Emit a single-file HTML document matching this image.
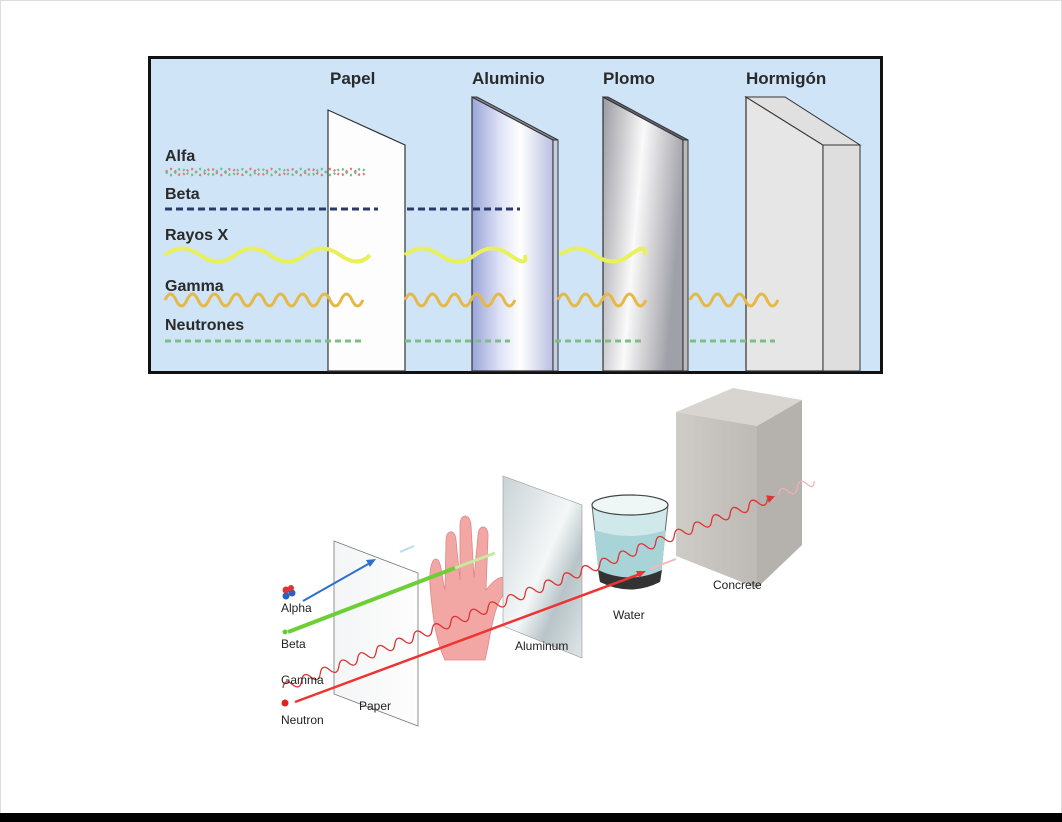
<!DOCTYPE html>
<html><head><meta charset="utf-8"><style>
html,body{margin:0;padding:0;background:#fff;}
svg{display:block}
text{font-family:"Liberation Sans",sans-serif}
</style></head><body>
<svg width="1062" height="822" viewBox="0 0 1062 822" xmlns="http://www.w3.org/2000/svg">
<defs>
<linearGradient id="al" x1="0" x2="1"><stop offset="0" stop-color="#9aa4d8"/><stop offset="0.35" stop-color="#dfe3f7"/><stop offset="0.6" stop-color="#fff"/><stop offset="1" stop-color="#b8bfe0"/></linearGradient>
<linearGradient id="pb" x1="0" y1="0" x2="1" y2="0.3"><stop offset="0" stop-color="#9a9aa2"/><stop offset="0.5" stop-color="#fafafa"/><stop offset="1" stop-color="#a0a0a8"/></linearGradient>
<linearGradient id="alb" x1="0" y1="0" x2="1" y2="1"><stop offset="0" stop-color="#c9d3d6"/><stop offset="0.5" stop-color="#f4f7f8"/><stop offset="0.7" stop-color="#b8c4c8"/><stop offset="1" stop-color="#dfe6e8"/></linearGradient>
<linearGradient id="cf" x1="0" x2="1"><stop offset="0" stop-color="#cfcbc6"/><stop offset="1" stop-color="#bdb9b4"/></linearGradient>
<linearGradient id="pp" x1="0" x2="1"><stop offset="0" stop-color="#f4f5f6"/><stop offset="1" stop-color="#fdfdfd"/></linearGradient>
</defs>
<rect x="0.5" y="0.5" width="1061" height="821" fill="#fff" stroke="#ddd"/>
<rect x="0" y="813" width="1062" height="9" fill="#000"/>

<rect x="149.5" y="57.5" width="732" height="315" fill="#cfe4f6" stroke="#111" stroke-width="3"/>
<g font-weight="bold" font-size="17" fill="#2a2a2a">
<text x="330" y="84">Papel</text><text x="472" y="84">Aluminio</text><text x="603" y="84">Plomo</text><text x="746" y="84">Hormigón</text>
</g>
<polygon points="328,110 405,145 405,371 328,371" fill="#fdfdfd" stroke="#333" stroke-width="1.2"/>
<polygon points="472,97 553,140 553,371 472,371" fill="url(#al)" stroke="#333" stroke-width="1.2"/>
<polygon points="472,97 477,97 558,140 553,140" fill="#889" stroke="#333"/>
<rect x="553" y="140" width="5" height="231" fill="#c8cde6" stroke="#333"/>
<polygon points="603,97 683,140 683,371 603,371" fill="url(#pb)" stroke="#333" stroke-width="1.2"/>
<polygon points="603,97 608,97 688,140 683,140" fill="#667" stroke="#333"/>
<rect x="683" y="140" width="5" height="231" fill="#bbb" stroke="#333"/>
<polygon points="746,97 823,145 823,371 746,371" fill="#e6e6e6" stroke="#333" stroke-width="1.2"/>
<polygon points="746,97 785,97 860,145 823,145" fill="#e0e0e0" stroke="#333"/>
<rect x="823" y="145" width="37" height="226" fill="#dedede" stroke="#333"/>
<g font-weight="bold" font-size="16" fill="#2a2a2a">
<text x="165" y="161">Alfa</text><text x="165" y="199">Beta</text><text x="165" y="240">Rayos X</text><text x="165" y="291">Gamma</text><text x="165" y="330">Neutrones</text>
</g>
<path d="M166,172 q5,-6 10,0 t10,0 t10,0 t10,0 t10,0 t10,0 t10,0 t10,0 t10,0 t10,0 t10,0 t10,0 t10,0 t10,0 t10,0 t10,0 t10,0 t10,0 t10,0 t10,0" fill="none" stroke="#e07a7a" stroke-width="2.5" stroke-dasharray="2 3"/>
<path d="M166,172 q5,6 10,0 t10,0 t10,0 t10,0 t10,0 t10,0 t10,0 t10,0 t10,0 t10,0 t10,0 t10,0 t10,0 t10,0 t10,0 t10,0 t10,0 t10,0 t10,0 t10,0" fill="none" stroke="#6cbf8a" stroke-width="2.5" stroke-dasharray="2 3"/>
<g stroke="#2c3a6a" stroke-width="3" stroke-dasharray="7 4"><line x1="165" y1="209" x2="378" y2="209"/><line x1="407" y1="209" x2="520" y2="209"/></g>
<g fill="none" stroke="#e8f05a" stroke-width="4">
<path d="M165,255 q17,-13 35,0 t35,0 t35,0 t35,0 t35,0 t30,0"/>
<path d="M405,255 q17,-13 35,0 t35,0 t35,0 t15,0"/>
<path d="M560,255 q17,-13 35,0 t35,0 t15,0"/>
</g>
<g fill="none" stroke="#e6b844" stroke-width="3">
<path d="M165,300 q5.5,-12 11,0 t11,0 t11,0 t11,0 t11,0 t11,0 t11,0 t11,0 t11,0 t11,0 t11,0 t11,0 t11,0 t11,0 t11,0 t11,0 t11,0 t11,0"/>
<path d="M405,300 q5.5,-12 11,0 t11,0 t11,0 t11,0 t11,0 t11,0 t11,0 t11,0 t11,0 t11,0"/>
<path d="M558,300 q5.5,-12 11,0 t11,0 t11,0 t11,0 t11,0 t11,0 t11,0 t11,0"/>
<path d="M690,300 q5.5,-12 11,0 t11,0 t11,0 t11,0 t11,0 t11,0 t11,0 t11,0"/>
</g>
<g stroke="#7cbf84" stroke-width="3" stroke-dasharray="6 4"><line x1="165" y1="341" x2="365" y2="341"/><line x1="405" y1="341" x2="510" y2="341"/><line x1="555" y1="341" x2="645" y2="341"/><line x1="690" y1="341" x2="775" y2="341"/></g>

<polygon points="676,412 733,388 802,400 757,426" fill="#d8d4cf"/>
<polygon points="676,412 757,426 757,588 676,556" fill="url(#cf)"/>
<polygon points="757,426 802,400 802,545 757,588" fill="#b5b1ac"/>
<polygon points="334,541 418,573 418,726 334,694" fill="url(#pp)" stroke="#777" stroke-width="0.8"/>
<path d="M445,660 C435,640 432,610 430,585 C429,570 432,555 438,560 C442,565 442,580 445,590 L446,540 C446,530 455,528 456,540 L460,580 L460,525 C460,513 470,513 471,525 L474,578 L478,535 C479,523 489,525 488,537 L486,590 C490,585 498,575 505,578 C512,582 505,592 500,600 C492,615 490,640 485,660 Z" fill="#f2a7a5" stroke="#d88" stroke-width="0.8"/>
<polygon points="503,476 582,505 582,658 503,626" fill="url(#alb)" stroke="#999" stroke-width="0.6"/>
<path d="M592,505 L600,580 Q630,595 660,580 L668,505 Z" fill="#cfe8ea" stroke="#666" stroke-width="1"/>
<ellipse cx="630" cy="505" rx="38" ry="10" fill="#eef6f6" stroke="#444" stroke-width="1.2"/>
<path d="M594,530 Q630,542 666,530 L661,575 Q630,590 599,575 Z" fill="#a8d4d8"/>
<path d="M598,570 Q630,585 662,570 L660,582 Q630,597 600,582 Z" fill="#333"/>
<line x1="303" y1="601" x2="370" y2="563" stroke="#2b6fd0" stroke-width="2"/>
<polygon points="376,559 366,560 370,567" fill="#2b6fd0"/>
<line x1="400" y1="552" x2="414" y2="546" stroke="#b8dcf0" stroke-width="2"/>
<line x1="288" y1="632" x2="455" y2="568" stroke="#6ccf35" stroke-width="4"/>
<line x1="455" y1="568" x2="495" y2="553" stroke="#c5eaa0" stroke-width="3"/>
<line x1="295" y1="702" x2="640" y2="574" stroke="#e33" stroke-width="2.5"/>
<polygon points="646,571 636,571 639,578" fill="#e33"/>
<line x1="650" y1="569" x2="676" y2="559" stroke="#f4b8b8" stroke-width="2"/>
<g transform="translate(283,688) rotate(-21.3)">
<path d="M0,0 q5,-9 10,0 t10,0 t10,0 t10,0 t10,0 t10,0 t10,0 t10,0 t10,0 t10,0 t10,0 t10,0 t10,0 t10,0 t10,0 t10,0 t10,0 t10,0 t10,0 t10,0 t10,0 t10,0 t10,0 t10,0 t10,0 t10,0 t10,0 t10,0 t10,0 t10,0 t10,0 t10,0 t10,0 t10,0 t10,0 t10,0 t10,0 t10,0 t10,0 t10,0 t10,0 t10,0 t10,0 t10,0 t10,0 t10,0 t10,0 t10,0 t10,0 t10,0 t10,0 t10,0" fill="none" stroke="#d33" stroke-width="1.3"/>
<polygon points="528,0 520,-4 520,4" fill="#d33"/>
<path d="M532,0 q5,-9 10,0 t10,0 t10,0 t8,0" fill="none" stroke="#f2b0b0" stroke-width="1.2"/>
</g>
<circle cx="286" cy="590" r="3.5" fill="#d33"/><circle cx="292" cy="593" r="3.5" fill="#2b5fc0"/><circle cx="286" cy="596" r="3.5" fill="#2b5fc0"/><circle cx="291" cy="588" r="3" fill="#d33"/>
<circle cx="285" cy="632" r="2.5" fill="#6c3"/>
<circle cx="285" cy="703" r="3.5" fill="#d22"/>
<g font-size="12" fill="#222">
<text x="281" y="612">Alpha</text><text x="281" y="648">Beta</text><text x="281" y="684">Gamma</text><text x="281" y="724">Neutron</text>
<text x="359" y="710">Paper</text><text x="515" y="650">Aluminum</text><text x="613" y="619">Water</text><text x="713" y="589">Concrete</text>
</g>
</svg>
</body></html>
